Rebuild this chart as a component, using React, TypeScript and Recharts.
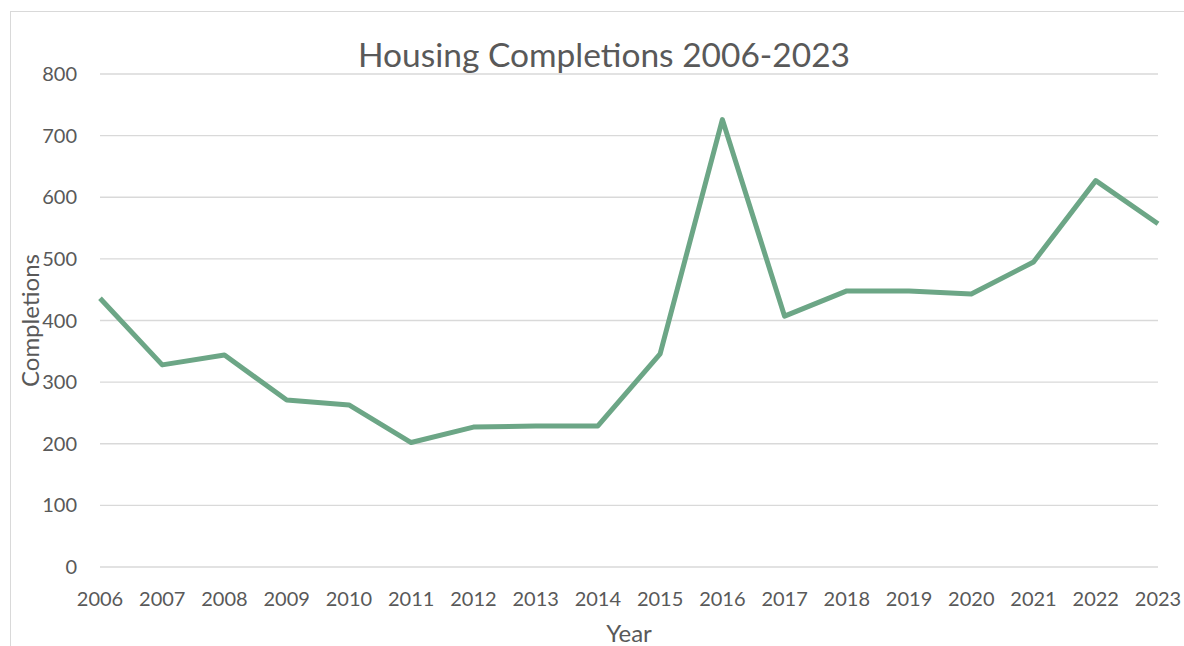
import { LineChart, Line, XAxis, YAxis, CartesianGrid } from 'recharts';

// Housing completions per year
const years = [
  '2006', '2007', '2008', '2009', '2010', '2011', '2012', '2013', '2014',
  '2015', '2016', '2017', '2018', '2019', '2020', '2021', '2022', '2023',
];
const completions = [
  436, 328, 344, 271, 263, 202, 227, 229, 229,
  346, 726, 407, 448, 448, 443, 495, 627, 557,
];
const yTicks = [0, 100, 200, 300, 400, 500, 600, 700, 800];

const data = years.map((year, i) => ({ year, completions: completions[i] }));

const TEXT = '#595959';
const GRID = '#d9d9d9';
const FONT = 'Lato, "Open Sans", sans-serif';

export default function App() {
  return (
    <div style={{ position: 'relative', width: 1184, height: 646, overflow: 'hidden', fontFamily: FONT }}>
      <style>{`body { margin: 0; overflow: hidden; }`}</style>
      {/* chart frame */}
      <div
        style={{
          position: 'absolute',
          left: 10,
          top: 11,
          width: 1190,
          height: 700,
          border: `1px solid ${GRID}`,
          boxSizing: 'border-box',
        }}
      />
      <div
        style={{
          position: 'absolute',
          left: 0,
          width: 1208,
          top: 33,
          textAlign: 'center',
          fontSize: 33.5,
          lineHeight: '42px',
          color: TEXT,
        }}
      >
        Housing Completions 2006-2023
      </div>
      <div style={{ position: 'absolute', left: 0, top: 0 }}>
        <LineChart
          width={1184}
          height={646}
          data={data}
          margin={{ top: 74, right: 26, left: 0, bottom: 0 }}
        >
          <CartesianGrid vertical={false} stroke={GRID} strokeWidth={1.3} />
          <XAxis
            dataKey="year"
            height={79}
            tickLine={false}
            axisLine={false}
            tickSize={0}
            tickMargin={25}
            interval={0}
            tick={{ fill: TEXT, fontSize: 20, fontFamily: FONT }}
            label={{ value: 'Year', position: 'insideBottom', offset: 4, fill: TEXT, fontSize: 24, fontFamily: FONT }}
          />
          <YAxis
            width={100}
            domain={[0, 800]}
            ticks={yTicks}
            tickLine={false}
            axisLine={false}
            tickSize={0}
            tickMargin={23}
            tick={{ fill: TEXT, fontSize: 20, fontFamily: FONT }}
            label={{
              value: 'Completions',
              angle: -90,
              position: 'insideLeft',
              offset: 30,
              fill: TEXT,
              fontSize: 24,
              fontFamily: FONT,
              style: { textAnchor: 'middle' },
            }}
          />
          <Line
            type="linear"
            dataKey="completions"
            stroke="#6ca686"
            strokeWidth={5}
            strokeLinejoin="round"
            dot={false}
            activeDot={false}
            isAnimationActive={false}
          />
        </LineChart>
      </div>
    </div>
  );
}
